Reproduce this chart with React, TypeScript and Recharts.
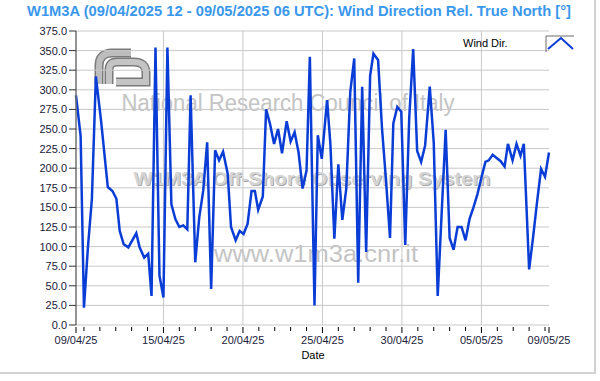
import { LineChart, Line, XAxis, YAxis, CartesianGrid, ReferenceLine } from "recharts";

// hours since 09/04/2025 12 UTC
const hours = [
  0, 7, 12, 18, 24, 30, 38, 48, 55, 61, 66, 72, 79, 91, 96, 103, 109, 114, 120, 126,
  132, 138, 144, 150, 156, 162, 168, 173, 180, 186, 192, 198, 204, 210, 216, 222, 229, 234, 241, 247,
  253, 259, 265, 270, 275, 282, 287, 293, 299, 305, 311, 318, 324, 330, 336, 342, 348, 353, 360, 365,
  371, 379, 384, 390, 396, 402, 408, 414, 420, 426, 432, 438, 444, 449, 456, 462, 468, 474, 479, 485,
  491, 497, 503, 509, 515, 521, 527, 534, 540, 546, 558, 564, 570, 576, 582, 588, 594, 600, 606, 612,
  618, 623, 629, 635, 641, 647, 652, 659, 665, 671, 676, 684, 690, 696, 702, 708, 714,
];

// wind direction [deg]
const windDir = [
  293, 241, 22, 99, 161, 317, 259, 176, 171, 161, 120, 103, 99, 117, 99, 86, 91, 37, 354, 63,
  35, 354, 154, 135, 125, 127, 122, 293, 80, 137, 171, 233, 46, 223, 210, 221, 193, 125, 108, 120,
  116, 129, 171, 171, 147, 164, 275, 256, 231, 250, 219, 260, 234, 246, 220, 174, 197, 342, 25, 242,
  212, 287, 231, 110, 205, 134, 174, 297, 340, 54, 304, 93, 318, 346, 338, 250, 184, 111, 257, 278,
  272, 102, 264, 352, 222, 208, 229, 304, 233, 37, 249, 111, 96, 125, 125, 108, 135, 150, 167, 188,
  208, 210, 217, 213, 209, 202, 231, 210, 231, 216, 231, 71, 112, 157, 199, 189, 220,
];

const yTicks = [0, 25, 50, 75, 100, 125, 150, 175, 200, 225, 250, 275, 300, 325, 350, 375];
const majorTicks = [0, 132, 252, 372, 492, 612, 714];
const majorLabels = ["09/04/25", "15/04/25", "20/04/25", "25/04/25", "30/04/25", "05/05/25", "09/05/25"];
const gridHours = [132, 252, 372, 492, 612];
const dayTicks = [0, ...Array.from({ length: 30 }, (_, i) => 12 + i * 24), 714];

const data = hours.map((h, i) => ({ h, dir: windDir[i] }));

const FONT = "'Liberation Sans', Arial, sans-serif";

const DateTick = (props: any) => {
  const { x, y, payload } = props;
  const idx = majorTicks.indexOf(payload.value);
  const major = idx >= 0;
  return (
    <g>
      <line x1={x} x2={x} y1={y + 2} y2={y + (major ? 8 : 6)} stroke="#000" />
      {major && (
        <text x={x} y={y + 19} textAnchor="middle" fontSize={11} fontFamily={FONT} fill="#1a1a3a">
          {majorLabels[idx]}
        </text>
      )}
    </g>
  );
};

const Backdrop = () => (
  <svg width={600} height={381} style={{ position: "absolute", left: 0, top: 0 }}>
    <line x1={595} y1={0} x2={595} y2={373} stroke="#d2d2d2" strokeWidth={2} />
    <line x1={0} y1={373} x2={596} y2={373} stroke="#d2d2d2" strokeWidth={2} />
    <text x={299} y={16} textAnchor="middle" fontSize={14} fontWeight="bold" fontFamily={FONT}
      fill="#3a98ec" textLength={544} lengthAdjust="spacingAndGlyphs">
      W1M3A (09/04/2025 12 - 09/05/2025 06 UTC): Wind Direction Rel. True North [°]
    </text>
    {/* CNR logo */}
    <g fill="none" strokeLinecap="butt">
      <path d="M131 53 H112 Q99 53 99 66 V84" stroke="#7a7a7a" strokeWidth={9} />
      <path d="M131 53 H112 Q99 53 99 66 V84" stroke="#bdbdbd" strokeWidth={6} />
      <path d="M109 84 V70 Q109 62 117 62 H134 Q146 62 146 73 V82 H116" stroke="#7a7a7a" strokeWidth={9} />
      <path d="M109 84 V70 Q109 62 117 62 H134 Q146 62 146 73 V82 H116" stroke="#c4c4c4" strokeWidth={6} />
    </g>
    <text x={288} y={111} textAnchor="middle" fontSize={23} fontFamily={FONT} fill="#c4c4c4"
      textLength={333} lengthAdjust="spacingAndGlyphs">
      National Research Council of Italy
    </text>
    <text x={313} y={186} textAnchor="middle" fontSize={18} fontWeight="bold" fontFamily={FONT} fill="#a9a9a9"
      textLength={357} lengthAdjust="spacingAndGlyphs">
      W1M3A Off-Shore Observing System
    </text>
    <text x={312} y={185} textAnchor="middle" fontSize={18} fontWeight="bold" fontFamily={FONT} fill="#d4d4d4"
      textLength={357} lengthAdjust="spacingAndGlyphs">
      W1M3A Off-Shore Observing System
    </text>
    <text x={316} y={262} textAnchor="middle" fontSize={23} fontFamily={FONT} fill="#c4c4c4"
      textLength={204} lengthAdjust="spacingAndGlyphs">
      www.w1m3a.cnr.it
    </text>
  </svg>
);

const Overlay = () => (
  <svg width={600} height={381} style={{ position: "absolute", left: 0, top: 0, pointerEvents: "none" }}>
    <text x={463} y={47} fontSize={11} fontFamily={FONT} fill="#000">Wind Dir.</text>
    <path d="M546 52 V36 H574" fill="none" stroke="#6a6a6a" strokeWidth={1} />
    <path d="M548 49 L561 38 L573 49" fill="none" stroke="#0a3dd6" strokeWidth={2} />
    <text x={313} y={359} textAnchor="middle" fontSize={11} fontFamily={FONT} fill="#000">Date</text>
  </svg>
);

export default function App() {
  return (
    <div style={{ position: "fixed", left: 0, top: 0, width: 600, height: 381, background: "#fff" }}>
      <Backdrop />
      <div style={{ position: "absolute", left: 0, top: 0 }}>
        <LineChart width={600} height={381} data={data} margin={{ top: 31, right: 51, left: 0, bottom: 26 }}>
          <CartesianGrid vertical={false} stroke="#c8c8c8" />
          {gridHours.map((g) => (
            <ReferenceLine key={g} x={g} stroke="#c8c8c8" />
          ))}
          <XAxis
            dataKey="h"
            type="number"
            domain={[0, 714]}
            ticks={dayTicks}
            interval={0}
            axisLine={false}
            tickLine={false}
            tickSize={0}
            tickMargin={0}
            height={30}
            tick={<DateTick />}
          />
          <YAxis
            type="number"
            domain={[0, 375]}
            ticks={yTicks}
            interval={0}
            width={76}
            tickSize={7}
            tickMargin={2}
            tickFormatter={(v: number) => v.toFixed(1)}
            tick={{ fontSize: 11, fontFamily: FONT, fill: "#1a1a3a" }}
            tickLine={{ stroke: "#333" }}
            axisLine={{ stroke: "#707070", strokeWidth: 1.5 }}
          />
          <Line
            type="linear"
            dataKey="dir"
            stroke="#0a3dd6"
            strokeWidth={2.5}
            dot={false}
            isAnimationActive={false}
          />
        </LineChart>
      </div>
      <Overlay />
    </div>
  );
}
